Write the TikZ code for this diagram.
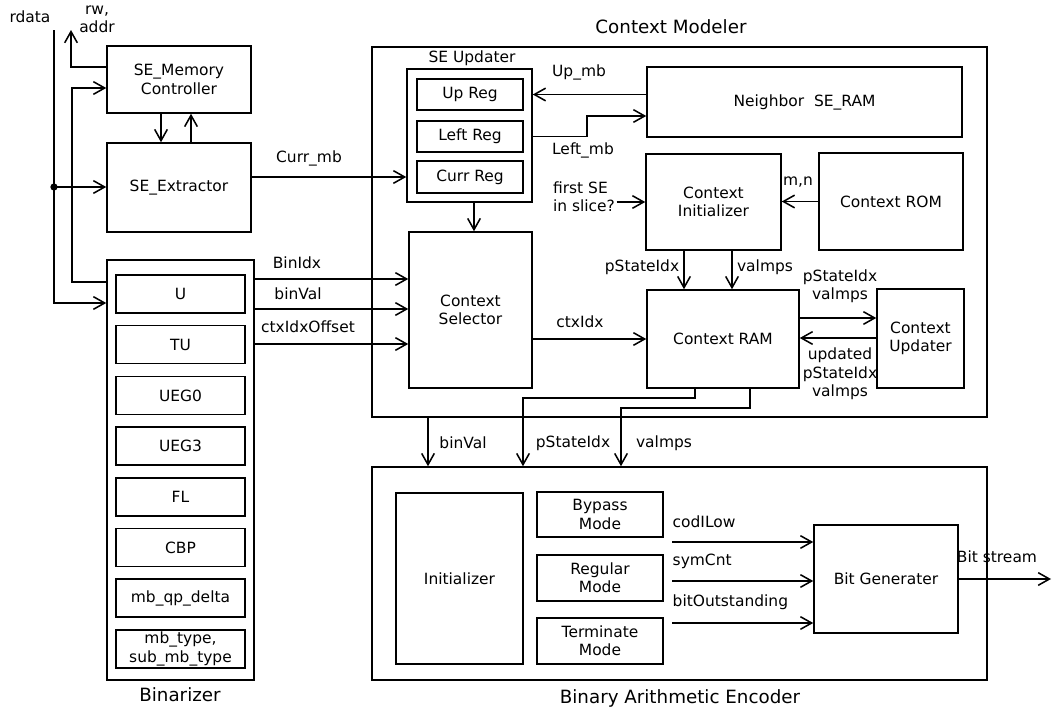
\documentclass[tikz,border=0pt]{standalone}
\usepackage{fontspec}
\setmainfont{DejaVu Sans}
\usetikzlibrary{arrows.meta}
\tikzstyle{box}=[draw,line width=1.1pt,inner sep=0pt,align=center]
\tikzstyle{lbl}=[inner sep=1pt,align=center]
\tikzstyle{ttl}=[inner sep=1pt,font=\fontsize{13}{15}\selectfont]
\tikzstyle{arr}=[line width=1.1pt,-{Straight Barb[length=8pt,width=9pt]}]

\begin{document}
\begin{tikzpicture}[x=0.025cm,y=-0.025cm,font=\fontsize{11}{13}\selectfont,
  rect/.style n args={4}{minimum width={((#3)-(#1))*0.025cm},minimum height={((#4)-(#2))*0.025cm},
    at={({((#1)+(#3))/2},{((#2)+(#4))/2})}}]
  \useasboundingbox (0,0) rectangle (1054,710);
  % memory side
  \node[box,rect={107}{46}{251}{113}] (mem) {SE\_Memory\\Controller};
  \node[box,rect={107}{143}{251}{232}] (ext) {SE\_Extractor};
  \coordinate (rin) at (54,30);
  \coordinate (rwout) at (71,30);
  \coordinate (dot) at (54,187);
  % binarizer
  \node[box,rect={107}{260}{254}{680}] (binz) {};
  \node[ttl] (binzt) at (180,695) {Binarizer};
  \foreach \t [count=\i from 0] in {U,TU,UEG0,UEG3,FL,CBP,mb\_qp\_delta,{mb\_type,\\sub\_mb\_type}}
    \node[box,rect={116}{275+50.7*\i}{245}{313+50.7*\i}] (b\i) {\t};
  % context modeler
  \node[box,rect={372}{47}{987}{417}] (cm) {};
  \node[ttl] (cmt) at (671,27) {Context Modeler};
  \node[box,rect={407}{69}{532}{202}] (upd) {};
  \node[lbl] (updt) at (472,58) {SE Updater};
  \node[box,rect={417}{79}{523}{110}] (upreg) {Up Reg};
  \node[box,rect={417}{121}{523}{152}] (lreg) {Left Reg};
  \node[box,rect={417}{161}{523}{193}] (creg) {Curr Reg};
  \node[box,rect={647}{67}{962}{137}] (nsr) {Neighbor~~SE\_RAM};
  \node[box,rect={646}{154}{781}{250}] (cinit) {Context\\Initializer};
  \node[box,rect={819}{153}{963}{250}] (crom) {Context ROM};
  \node[box,rect={409}{232}{532}{388}] (csel) {Context\\Selector};
  \node[box,rect={647}{290}{799}{388}] (cram) {Context RAM};
  \node[box,rect={877}{289}{964}{388}] (cupd) {Context\\Updater};
  % encoder
  \node[box,rect={372}{467}{987}{680}] (bae) {};
  \node[ttl] (baet) at (680,698) {Binary Arithmetic Encoder};
  \node[box,rect={396}{493}{523}{664}] (init) {Initializer};
  \node[box,rect={537}{492}{663}{537}] (bypass) {Bypass\\Mode};
  \node[box,rect={537}{555}{663}{601}] (regular) {Regular\\Mode};
  \node[box,rect={537}{618}{663}{664}] (term) {Terminate\\Mode};
  \node[box,rect={814}{525}{958}{633}] (bitgen) {Bit Generater};
  % labels
  \node[lbl] (rdata) at (30,17) {rdata};
  \node[lbl] (rwaddr) at (97,19) {rw,\\addr};
  \node[lbl] (lcurr) at (309,158) {Curr\_mb};
  \node[lbl] (lup) at (579,72) {Up\_mb};
  \node[lbl] (lleft) at (583,150) {Left\_mb};
  \node[lbl,align=left] (fse) at (584,197) {first SE\\in slice?};
  \node[lbl] (lmn) at (798,182) {m,n};
  \node[lbl] (lbinidx) at (297,263) {BinIdx};
  \node[lbl] (lbinval) at (298,294) {binVal};
  \node[lbl] (loffset) at (308,327) {ctxIdxOffset};
  \node[lbl] (lctx) at (580,322) {ctxIdx};
  \node[lbl] (lps1) at (642,267) {pStateIdx};
  \node[lbl] (lmps1) at (765,267) {valmps};
  \node[lbl] (lrd) at (840,286) {pStateIdx\\valmps};
  \node[lbl] (lwr) at (840,374) {updated\\pStateIdx\\valmps};
  \node[lbl] (lbv) at (463,443) {binVal};
  \node[lbl] (lps2) at (573,443) {pStateIdx};
  \node[lbl] (lmps2) at (664,443) {valmps};
  \node[lbl,anchor=west] (lcod) at (671,522) {codILow};
  \node[lbl,anchor=west] (lsym) at (671,561) {symCnt};
  \node[lbl,anchor=west] (lbit) at (671,602) {bitOutstanding};
  \node[lbl] (lbs) at (997,557) {Bit stream};
  % connectors
  \fill (dot) circle (2.6pt);
  \draw[arr] (rin) |- (binz.west |- 0,303);
  \draw[arr] (dot) -- (dot -| ext.west);
  \draw[arr] (binz.west |- 0,282) -| (72,88) -- (mem.west |- 0,88);
  \draw[arr] (mem.west |- 0,67) -| (rwout);
  \draw[arr] (mem.south -| 161,0) -- (ext.north -| 161,0);
  \draw[arr] (ext.north -| 191,0) -- (mem.south -| 191,0);
  \draw[arr] (ext.east |- creg) -- (upd.west |- creg);
  \draw[arr] (nsr.west |- upreg) -- (upd.east |- upreg);
  \draw[arr] (upd.east |- lreg) -| (587,116) -- (nsr.west |- 0,116);
  \draw[arr] (upd.south -| 474,0) -- (csel.north -| 474,0);
  \draw[arr] (fse.east |- cinit.west) -- (cinit.west);
  \draw[arr] (crom.west) -- (cinit.east |- crom.west);
  \foreach \y in {279,309,344}
    \draw[arr] (binz.east |- 0,\y) -- (csel.west |- 0,\y);
  \draw[arr] (csel.east |- cram.west) -- (cram.west);
  \draw[arr] (cinit.south -| 684,0) -- (cram.north -| 684,0);
  \draw[arr] (cinit.south -| 732,0) -- (cram.north -| 732,0);
  \draw[arr] (cram.east |- 0,318) -- (cupd.west |- 0,318);
  \draw[arr] (cupd.west |- 0,338) -- (cram.east |- 0,338);
  \draw[arr] (cm.south -| 428,0) -- (bae.north -| 428,0);
  \draw[arr] (cram.south -| 695,0) |- (523,398) -- (bae.north -| 523,0);
  \draw[arr] (cram.south -| 750,0) |- (621,408) -- (bae.north -| 621,0);
  \foreach \y/\n in {542/cod,581/sym,623/bit} {
    \coordinate (\n) at (672,\y);
    \draw[arr] (\n) -- (bitgen.west |- \n);
  }
  \coordinate (bsout) at (1051,579);
  \draw[arr] (bitgen.east) -- (bsout);
\end{tikzpicture}
\end{document}
